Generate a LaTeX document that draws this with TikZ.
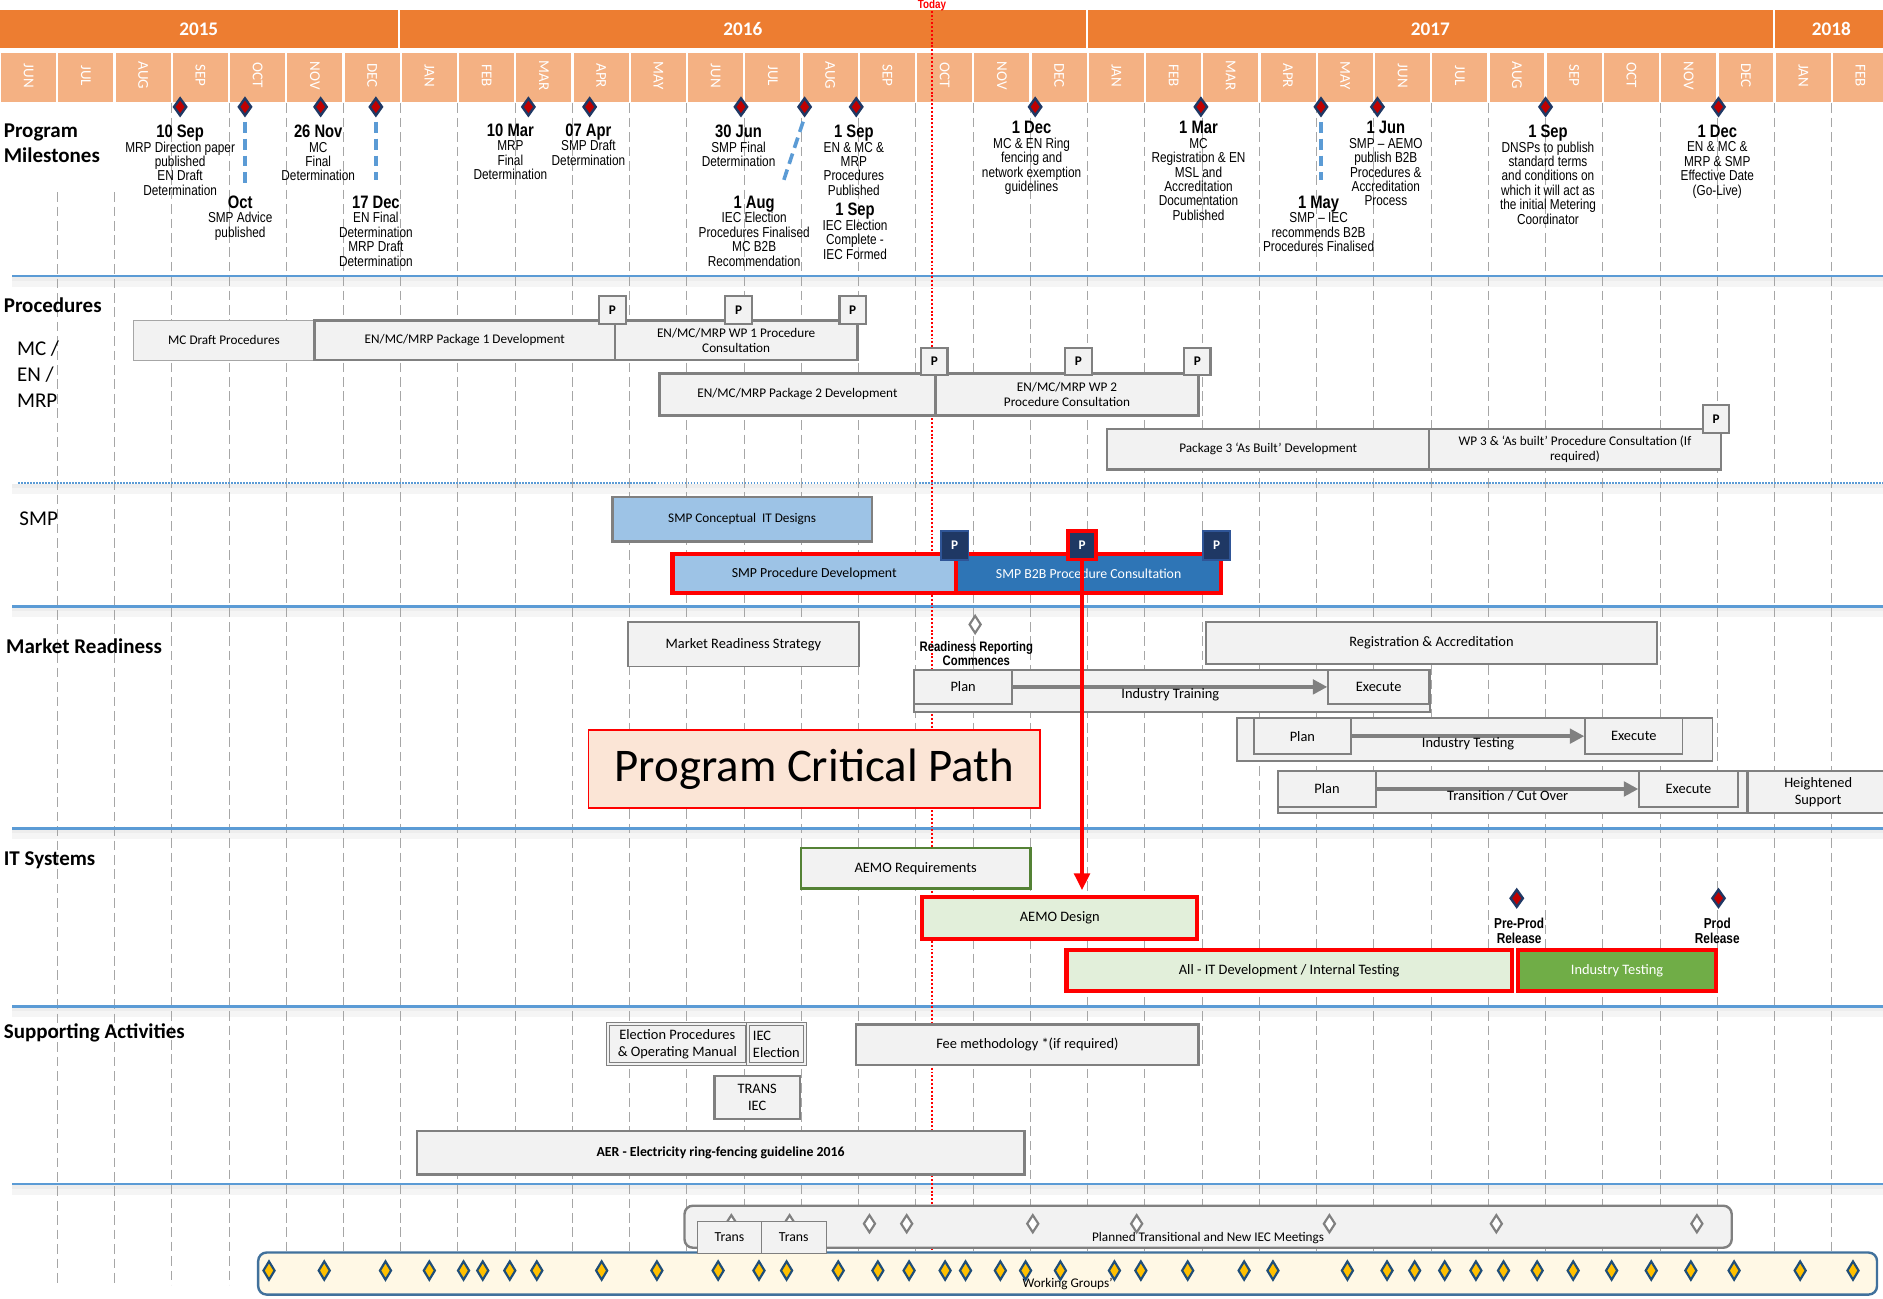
\documentclass[tikz,border=0pt]{standalone}
\usepackage{fontspec}
\setmainfont{Carlito}
\newfontfamily\narrowf{Liberation Sans}[FakeStretch=0.82]
\usetikzlibrary{shapes.geometric,arrows.meta}
\definecolor{yearor}{HTML}{ED7D31}
\definecolor{monor}{HTML}{F4B183}
\definecolor{sepblue}{HTML}{5B9BD5}
\definecolor{gridg}{HTML}{A6A6A6}
\definecolor{bfill}{HTML}{F2F2F2}
\definecolor{bgray}{HTML}{808080}
\definecolor{smpl}{HTML}{9DC3E6}
\definecolor{smpdk}{HTML}{2E75B6}
\definecolor{pnavy}{HTML}{1F3864}
\definecolor{pnavyb}{HTML}{2F5597}
\definecolor{grl}{HTML}{E2EFDA}
\definecolor{grm}{HTML}{70AD47}
\definecolor{grb}{HTML}{548235}
\definecolor{pinkf}{HTML}{FBE5D6}
\definecolor{creamf}{HTML}{FFF8E5}
\definecolor{wgb}{HTML}{41719C}
\definecolor{msred}{HTML}{C00000}
\definecolor{goldf}{HTML}{FFC000}
\definecolor{goldb}{HTML}{1F4E79}
\definecolor{cpred}{HTML}{FF0000}
\newcommand\bx[7]{\node[#1,minimum width={(#5)-(#3)},minimum height={(#6)-(#4)}] (#2) at ({((#3)+(#5))/2},{((#4)+(#6))/2}) {#7};}
\newcommand\md[1]{{\fontsize{15}{15}\selectfont\bfseries #1}}
\tikzset{
  box/.style={draw=bgray, fill=bfill, line width=1.5pt, inner sep=1pt, align=center, font=\fontsize{12}{14}\selectfont},
  procbox/.style={box, line width=2pt, font=\fontsize{11}{13}\selectfont},
  critbox/.style={box, draw=cpred, line width=3.5pt, font=\fontsize{11.5}{13}\selectfont},
  pbox/.style={draw=bgray, fill=bfill, line width=1.8pt, minimum width=22, minimum height=23, inner sep=0pt, font=\bfseries\fontsize{11}{12}\selectfont},
  pnav/.style={draw=pnavyb, fill=pnavy, text=white, line width=1.5pt, minimum width=23, minimum height=24, inner sep=0pt, font=\bfseries\fontsize{11}{12}\selectfont},
  ms/.style={diamond, minimum width=11, minimum height=15, inner sep=0pt, fill=msred, draw=pnavy, line width=2pt},
  hdiam/.style={diamond, minimum width=10, minimum height=15, inner sep=0pt, fill=white, draw=bgray, line width=1.8pt},
  gdiam/.style={diamond, minimum width=10, minimum height=16, inner sep=0pt, fill=goldf, draw=goldb, line width=1.8pt},
  mst/.style={anchor=north, align=center, inner sep=0pt, font=\narrowf\fontsize{12}{12}\selectfont},
  mlbl/.style={align=center, inner sep=0pt, font=\narrowf\bfseries\fontsize{12}{12}\selectfont},
  msdash/.style={draw=sepblue, line width=3pt, dash pattern=on 9pt off 5pt, shorten <=4pt},
  seclbl/.style={inner sep=0pt, font=\bfseries\fontsize{17.5}{21}\selectfont},
  secnrm/.style={inner sep=0pt, align=left, font=\fontsize{17.5}{21.5}\selectfont},
  gridl/.style={draw=gridg, line width=0.8pt, dash pattern=on 8pt off 4pt},
  sepl/.style={draw=sepblue, line width=2pt},
  garrow/.style={draw=bgray, line width=3pt, -{Triangle[length=12pt,width=12pt]}},
  critarrow/.style={draw=cpred, line width=3pt, -{Triangle[length=14pt,width=13pt]}, shorten >=4pt},
  rbox/.style={rounded corners=7pt, line width=2pt, inner sep=0pt},
  wlbl/.style={inner sep=0pt, font=\fontsize{11}{12}\selectfont}
}
\begin{document}
\begin{tikzpicture}[x=1pt,y=-1pt]
\useasboundingbox (0,0) rectangle (1568,1081);
\fill[white] (0,0) rectangle (1568,1081);
% year band
\bx{fill=yearor,inner sep=0pt,text=white,font=\bfseries\fontsize{16}{16}\selectfont}{y15}{0}{8}{331}{40}{2015}
\bx{fill=yearor,inner sep=0pt,text=white,font=\bfseries\fontsize{16}{16}\selectfont}{y16}{333}{8}{904}{40}{2016}
\bx{fill=yearor,inner sep=0pt,text=white,font=\bfseries\fontsize{16}{16}\selectfont}{y17}{906}{8}{1476}{40}{2017}
\bx{fill=yearor,inner sep=0pt,text=white,font=\bfseries\fontsize{16}{16}\selectfont}{y18}{1478}{8}{1572}{40}{2018}
% months
\foreach \m [count=\i from 0] in {JUN,JUL,AUG,SEP,OCT,NOV,DEC,JAN,FEB,MAR,APR,MAY,JUN,JUL,AUG,SEP,OCT,NOV,DEC,JAN,FEB,MAR,APR,MAY,JUN,JUL,AUG,SEP,OCT,NOV,DEC,JAN,FEB}{
  \node[fill=monor, inner sep=0pt, minimum width=45.7, minimum height=41] (mon\i) at ({\i*47.67+23.83},64.5) {};
  \node[rotate=-90, text=white, inner sep=0pt, font=\fontsize{12.5}{12.5}\selectfont] (mt\i) at ([yshift=1.5pt]mon\i.center) {\m};
}
% separator shadows
\foreach \yy in {230,402,505,690,838,986}{
  \fill[black!7] (10,{\yy+1}) rectangle (1568,{\yy+4});
  \fill[black!4] (10,{\yy+4}) rectangle (1568,{\yy+9});
}
% grid
\foreach \k in {1,2}{\draw[gridl] ({\k*47.67},160) -- ({\k*47.67},1070);}
\foreach \k in {3,...,32}{\draw[gridl] ({\k*47.67},86) -- ({\k*47.67},1070);}
% separators
\foreach \yy in {230,505,690,838,986}{\draw[sepl] (10,\yy) -- (1568,\yy);}
\draw[draw=sepblue, line width=2pt, dash pattern=on 1.5pt off 1pt] (15,402) -- (1568,402);
% today
\node[text=cpred, inner sep=0pt, font=\narrowf\bfseries\fontsize{10}{10}\selectfont] (tdy) at (776,4.2) {Today};
\coordinate (tbot) at (776,1081);
\draw[cpred, line width=1.6pt, dash pattern=on 1.6pt off 1.6pt] (tdy.south) -- (tbot);
% section labels
\node[seclbl, align=left, anchor=north west] (lpm) at (3,103) {Program\\Milestones};
\node[seclbl, anchor=west] (lproc) at (3,254) {Procedures};
\node[secnrm, anchor=north west] (lmc) at (14,284) {MC /\\EN /\\MRP};
\node[secnrm, anchor=west] (lsmp) at (16,432) {SMP};
\node[seclbl, anchor=west] (lmr) at (5,538) {Market Readiness};
\node[seclbl, anchor=west] (lit) at (3,716) {IT Systems};
\node[seclbl, anchor=west] (lsa) at (3,860) {Supporting Activities};
% milestone diamonds
\foreach \xx [count=\j] in {150,204,267,313,440,491,617,670,713,862,1000,1100,1147,1287,1431}{
  \node[ms] (m\j) at (\xx,89) {};
}
% milestone texts
\node[mst] (t1) at (150,104) {\md{10 Sep}\\MRP Direction paper\\published\\EN Draft\\Determination};
\node[mst] (t2) at (200,163) {\md{Oct}\\SMP Advice\\published};
\node[mst] (t3) at (265,104) {\md{26 Nov}\\MC\\Final\\Determination};
\node[mst] (t4) at (313,163) {\md{17 Dec}\\EN Final\\Determination\\MRP Draft\\Determination};
\node[mst] (t5) at (425,103) {\md{10 Mar}\\MRP\\Final\\Determination};
\node[mst] (t6) at (490,103) {\md{07 Apr}\\SMP Draft\\Determination};
\node[mst] (t7) at (615,104) {\md{30 Jun}\\SMP Final\\Determination};
\node[mst] (t8) at (628,163) {\md{1 Aug}\\IEC Election\\Procedures Finalised\\MC B2B\\Recommendation};
\node[mst] (t9) at (711,104) {\md{1 Sep}\\EN \& MC \&\\MRP\\Procedures\\Published};
\node[mst] (t10) at (712,169) {\md{1 Sep}\\IEC Election\\Complete -\\IEC Formed};
\node[mst] (t11) at (859,101) {\md{1 Dec}\\MC \& EN Ring\\fencing and\\network exemption\\guidelines};
\node[mst] (t12) at (998,101) {\md{1 Mar}\\MC\\Registration \& EN\\MSL and\\Accreditation\\Documentation\\Published};
\node[mst] (t13) at (1098,163) {\md{1 May}\\SMP – IEC\\recommends B2B\\Procedures Finalised};
\node[mst] (t14) at (1154,101) {\md{1 Jun}\\SMP – AEMO\\publish B2B\\Procedures \&\\Accreditation\\Process};
\node[mst] (t15) at (1289,104) {\md{1 Sep}\\DNSPs to publish\\standard terms\\and conditions on\\which it will act as\\the initial Metering\\Coordinator};
\node[mst] (t16) at (1430,104) {\md{1 Dec}\\EN \& MC \&\\MRP \& SMP\\Effective Date\\(Go-Live)};
\draw[msdash] (m2.south) -- ([xshift=4pt,yshift=11pt]t2.north);
\draw[msdash] (m4.south) -- ([yshift=13pt]t4.north);
\draw[msdash] (m8.south) -- ([xshift=24pt,yshift=11pt]t8.north);
\draw[msdash] (m12.south) -- ([xshift=2pt,yshift=13pt]t13.north);
% procedures
\bx{procbox,draw=bgray!70,line width=1pt}{mcd}{111}{267}{262}{300}{MC Draft Procedures}
\bx{procbox}{pk1}{262}{267}{512}{300}{EN/MC/MRP Package 1 Development}
\bx{procbox}{wp1}{512}{267}{714}{300}{EN/MC/MRP WP 1 Procedure\\Consultation}
\node[pbox] (p1) at (510,258) {P};
\node[pbox] (p2) at (615,258) {P};
\node[pbox] (p3) at (710,258) {P};
\bx{procbox}{pk2}{549}{311}{779}{346}{EN/MC/MRP Package 2 Development}
\bx{procbox}{wp2}{779}{311}{998}{346}{EN/MC/MRP WP 2\\Procedure Consultation}
\node[pbox] (p4) at (778,301) {P};
\node[pbox] (p5) at (898,301) {P};
\node[pbox] (p6) at (997,301) {P};
\bx{procbox}{pk3}{922}{357}{1190}{391}{Package 3 ‘As Built’ Development}
\bx{procbox}{wp3}{1190}{357}{1433}{391}{WP 3 \& ‘As built’ Procedure Consultation (If\\required)}
\node[pbox] (p7) at (1429,349) {P};
% SMP
\bx{box,fill=smpl,line width=2pt,font=\fontsize{11}{13}\selectfont}{smpcon}{510}{414}{726}{451}{SMP Conceptual\ \ IT Designs}
\bx{critbox,fill=smpl}{smpdev}{560}{461}{796}{494}{SMP Procedure Development}
\bx{critbox,fill=smpdk,text=white}{smpb2b}{796}{461}{1017}{494}{SMP B2B Procedure Consultation}
\node[pnav] (pb1) at (795,454) {P};
\node[pnav, draw=cpred, line width=3pt] (pb2) at (901,454) {P};
\node[pnav] (pb3) at (1013,454) {P};
% market readiness
\bx{box}{mrs}{523}{518}{715}{555}{Market Readiness Strategy}
\node[hdiam] (rrd) at (812,520) {};
\node[mlbl, font=\narrowf\bfseries\fontsize{11.5}{12}\selectfont] (rrt) at (813,544) {Readiness Reporting\\Commences};
\bx{box}{itout}{761}{558}{1191}{593}{}
\bx{box}{plan1}{761}{558}{843}{586}{Plan}
\bx{box}{exe1}{1106}{558}{1190}{586}{Execute}
\draw[garrow] (plan1) -- (exe1) node[midway, below, inner sep=0pt, font=\fontsize{12}{14}\selectfont] (lt1) {Industry Training};
\bx{box}{ra}{1004}{518}{1380}{553}{Registration \& Accreditation}
\bx{box}{itst}{1030}{598}{1426}{634}{}
\bx{box}{plan2}{1044}{598}{1125}{628}{Plan}
\bx{box}{exe2}{1320}{598}{1401}{628}{Execute}
\draw[garrow] (plan2) -- (exe2) node[midway, below, inner sep=0pt, font=\fontsize{12}{14}\selectfont] (lt2) {Industry Testing};
\bx{box}{trout}{1064}{642}{1455}{677}{}
\bx{box}{plan3}{1064}{642}{1146}{672}{Plan}
\bx{box}{exe3}{1365}{642}{1447}{672}{Execute}
\draw[garrow] (plan3) -- (exe3) node[midway, below, inner sep=0pt, font=\fontsize{12}{14}\selectfont] (lt3) {Transition / Cut Over};
\bx{box}{hs}{1456}{642}{1572}{677}{Heightened\\Support}
\bx{box,fill=pinkf,draw=cpred,line width=1.5pt,font=\fontsize{39}{40}\selectfont}{pcp}{490}{608}{866}{673}{Program Critical Path}
% IT systems
\bx{box,draw=grb,line width=2pt,font=\fontsize{12}{14}\selectfont}{aemor}{667}{706}{858}{740}{AEMO Requirements}
\bx{critbox,fill=grl,font=\fontsize{12}{14}\selectfont}{aemod}{768}{747}{997}{782}{AEMO Design}
\node[ms] (pp) at (1263,748) {};
\node[mlbl] (ppt) at (1265,775) {Pre-Prod\\Release};
\node[ms] (pr) at (1431,748) {};
\node[mlbl] (prt) at (1430,775) {Prod\\Release};
\bx{critbox,fill=grl,font=\fontsize{12}{14}\selectfont}{itdev}{888}{791}{1259}{825}{All - IT Development / Internal Testing}
\bx{critbox,fill=grm,text=white,font=\fontsize{12}{14}\selectfont}{indt}{1264}{791}{1429}{825}{Industry Testing}
\draw[critarrow] (pb2.south) -- (pb2.south |- aemod.north);
% supporting activities
\bx{box,line width=1pt,double=bfill,double distance=1.5pt,font=\fontsize{12}{14.5}\selectfont}{elec}{506}{853}{622}{886}{Election Procedures\\\& Operating Manual}
\bx{box,line width=1pt,double=bfill,double distance=1.5pt,align=left,font=\fontsize{12}{14.5}\selectfont}{iece}{623}{853}{670}{886}{IEC\\Election}
\bx{box,line width=2pt}{tiec}{595}{896}{666}{932}{TRANS\\IEC}
\bx{box,line width=2pt}{fee}{713}{853}{998}{887}{Fee methodology *(if required)}
\bx{box,line width=2pt,font=\bfseries\fontsize{11.5}{14}\selectfont}{aer}{347}{942}{853}{978}{AER - Electricity ring-fencing guideline 2016}
% meetings
\bx{rbox,fill=bfill,draw=bgray}{ptm}{570}{1004}{1442}{1039}{}
\node[wlbl] (ptml) at (1006,1031) {Planned Transitional and New IEC Meetings};
\foreach \xx [count=\j] in {609,657.5,724,755,860,946.5,1107,1246,1413}{\node[hdiam] (hd\j) at (\xx,1019) {};}
\bx{rbox,fill=creamf,draw=wgb}{wg}{215}{1043}{1563}{1078}{}
\node[wlbl] (wgl) at (889,1069) {Working Groups’};
\foreach \xx [count=\j] in {224,270,321,357.5,386,402,424.5,447,501,547,598,632,655,698,731,757,787,804,833,854,883,928,950,989,1036,1060,1122,1155,1178,1203,1229,1252,1280,1310,1342,1375,1408,1444,1499,1543}{\node[gdiam] (gd\j) at (\xx,1058) {};}
\bx{box,line width=1pt,font=\fontsize{11.5}{13}\selectfont}{tr1}{581}{1017}{634}{1044}{Trans}
\bx{box,line width=1pt,font=\fontsize{11.5}{13}\selectfont}{tr2}{634}{1017}{688}{1044}{Trans}
\end{tikzpicture}
\end{document}
